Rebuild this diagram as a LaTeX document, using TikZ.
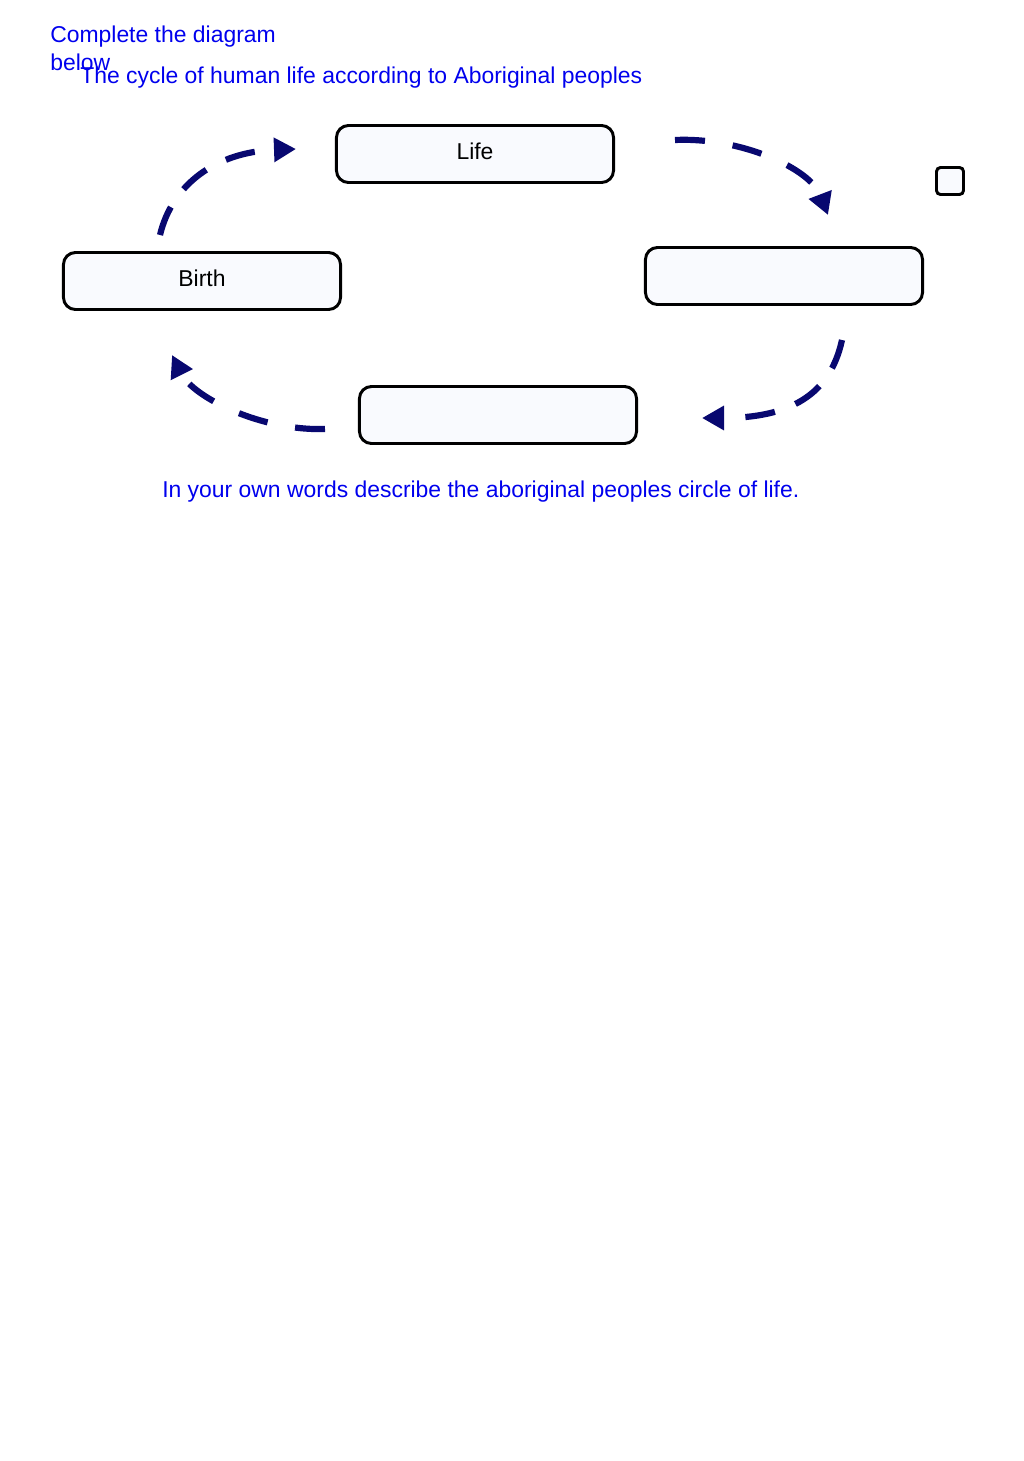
\documentclass[tikz,border=0pt]{standalone}
\usepackage{fontspec}
\setmainfont{Liberation Sans}
\usetikzlibrary{arrows.meta, positioning}
\definecolor{cyclenavy}{RGB}{8,8,112}
\definecolor{boxfill}{RGB}{249,250,254}
\definecolor{textblue}{RGB}{0,0,238}
\tikzstyle{stage} = [draw, line width=2.1pt, rounded corners=0.3cm, fill=boxfill, minimum width=6.925cm, minimum height=1.425cm, inner sep=0pt, text height=0.42cm, text depth=0.15cm]
\tikzstyle{flow} = [cyclenavy, line width=4.4pt, dash pattern=on 0.75cm off 0.55cm, -{Triangle[length=0.55cm,width=0.58cm]}]
\tikzstyle{note} = [textblue, inner sep=0pt]

\begin{document}
\begin{tikzpicture}[x=0.025cm, y=-0.025cm, font=\fontsize{16.3}{19.9}\selectfont]
    \useasboundingbox[fill=white] (0,0) rectangle (1024,1461);
    % headings
    \node[note, anchor=north west, align=left] (task) at (50,26) {Complete the diagram\\below};
    \node[note, anchor=base west] (title) at (80,83) {The cycle of human life according to Aboriginal peoples};
    % the four stages
    \node[stage] (life) at (475,154) {Life};
    \node[stage] (birth) at (202,281) {Birth};
    \node[stage] (right) at (784,276) {};
    \node[stage] (bottom) at (498,415) {};
    \node[draw, line width=2.1pt, rounded corners=0.1cm, fill=boxfill, minimum size=0.675cm, inner sep=0pt] (tick) at (950,181) {};
    % arrow ends
    \coordinate (a1s) at (160,235);
    \coordinate (a1e) at (296,149);
    \coordinate (a2s) at (675,140);
    \coordinate (a2e) at (828,215);
    \coordinate (a3s) at (842,340);
    \coordinate (a3e) at (702,418);
    \coordinate (a4s) at (325,429);
    \coordinate (a4e) at (172,355);
    \draw[flow] (a1s) .. controls (172,185) and (215,152) .. (a1e);
    \draw[flow, dash pattern=on 0.75cm off 0.7cm] (a2s) .. controls (740,137) and (810,168) .. (a2e);
    \draw[flow] (a3s) .. controls (830,395) and (790,418) .. (a3e);
    \draw[flow, dash pattern=on 0.75cm off 0.7cm] (a4s) .. controls (260,431) and (193,397) .. (a4e);
    % question
    \node[note, anchor=base west] (question) at (162,497) {In your own words describe the aboriginal peoples circle of life.};
\end{tikzpicture}
\end{document}
